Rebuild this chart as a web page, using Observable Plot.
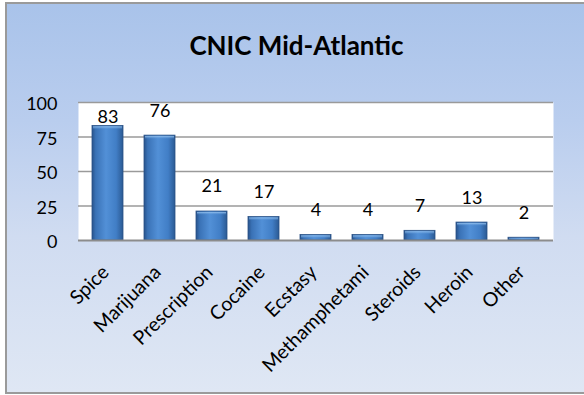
<!DOCTYPE html>
<html>
<head>
<meta charset="utf-8">
<script src="https://cdn.jsdelivr.net/npm/d3@7"></script>
<script src="https://cdn.jsdelivr.net/npm/@observablehq/plot@0.6"></script>
<style>
  html, body { margin: 0; padding: 0; background: #ffffff; overflow: hidden; }
  #wrap { position: relative; width: 584px; height: 395px; overflow: hidden; }
  #frame {
    position: absolute; left: 5px; top: 2px; width: 620px; height: 388px;
    border: 2px solid #9a9a9a;
    background: linear-gradient(to bottom, #a9c3ea 0%, #b9cdee 30%, #d0dcf1 60%, #dfe7f4 100%);
  }
  #title {
    position: absolute; left: 0; top: 30px; width: 593px; text-align: center;
    font-family: Lato, "Open Sans", sans-serif; font-weight: bold; font-size: 26px; line-height: 30px; color: #000;
  }
  #chart { position: absolute; left: 0; top: 0; }
</style>
</head>
<body>
<div id="wrap">
  <div id="frame"></div>
  <div id="title">CNIC Mid-Atlantic</div>
  <div id="chart"></div>
</div>
<script>
const categories = ["Spice", "Marijuana", "Prescription", "Cocaine", "Ecstasy", "Methamphetami", "Steroids", "Heroin", "Other"];
const values = [83, 76, 21, 17, 4, 4, 7, 13, 2];
const yTicks = [0, 25, 50, 75, 100];

const data = categories.map((c, i) => ({cat: c, value: values[i]}));

// label position: above bar, or tucked just above the bar top when it would leave the plot
const labelY = d => (d.value + 13.8 + 9 > 100 ? d.value + 2.5 : d.value + 13.8);

const svg = Plot.plot({
  width: 584,
  height: 395,
  marginLeft: 78,
  marginRight: 31,
  marginTop: 102,
  marginBottom: 155,
  style: {background: "transparent", fontFamily: "Lato, 'Open Sans', sans-serif", fontSize: "18px", color: "#000"},
  x: {domain: categories, paddingInner: 0.41, paddingOuter: 0.205, axis: null},
  y: {domain: [0, 100], axis: null},
  marks: [
    Plot.frame({fill: "white", stroke: null}),
    Plot.ruleY(yTicks.filter(t => t > 0), {stroke: "#9a9a9a", strokeWidth: 1.6}),
    Plot.barY(data, {x: "cat", y: "value", fill: "url(#barGrad)", stroke: "#2a5185", strokeWidth: 0.8}),
    Plot.barY(data, {x: "cat", y1: d => d.value, y2: d => Math.max(0, d.value - 3.5), fill: "url(#topGrad)", inset: 1}),
    Plot.ruleY([0], {stroke: "#8c8c8c", strokeWidth: 2}),
    Plot.axisY({ticks: yTicks, tickSize: 0, tickPadding: 21, fontSize: 18, dy: 2, label: null}),
    Plot.text(data, {x: "cat", y: labelY, text: d => String(d.value), lineAnchor: "bottom", fontSize: 18, fill: "#000"}),
    Plot.text(categories, {x: d => d, frameAnchor: "bottom", rotate: -45, textAnchor: "end", lineAnchor: "bottom", dy: 33, dx: 2, fontSize: 19.5, fill: "#000"})
  ]
});

const defs = d3.select(svg).insert("defs", ":first-child");
const g = defs.append("linearGradient").attr("id", "barGrad").attr("x1", 0).attr("x2", 1).attr("y1", 0).attr("y2", 0);
[[0, "#28538c"], [0.12, "#3a72b6"], [0.45, "#5290d7"], [0.78, "#417ec6"], [1, "#2b5a93"]].forEach(([o, c]) =>
  g.append("stop").attr("offset", o).attr("stop-color", c));
const t = defs.append("linearGradient").attr("id", "topGrad").attr("x1", 0).attr("x2", 0).attr("y1", 0).attr("y2", 1);
[[0, "#9cc8f2", 0.9], [1, "#5a95d8", 0]].forEach(([o, c, a]) =>
  t.append("stop").attr("offset", o).attr("stop-color", c).attr("stop-opacity", a));

document.getElementById("chart").appendChild(svg);
</script>
</body>
</html>
